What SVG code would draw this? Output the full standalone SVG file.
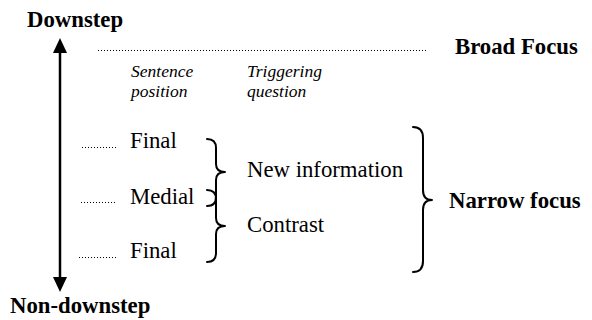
<svg xmlns="http://www.w3.org/2000/svg" width="592" height="320" viewBox="0 0 592 320">
<style>
text{font-family:'Liberation Serif','Times New Roman','DejaVu Serif',serif;fill:#000}
.b{font-weight:bold;font-size:22.75px}
.r{font-size:22.75px}
.i{font-style:italic;font-size:17.5px}
.dot{stroke:#000;stroke-width:1;stroke-dasharray:1 2;fill:none}
.brace{stroke:#000;stroke-width:2;fill:none;stroke-linecap:round;stroke-linejoin:round}
</style>
<rect width="592" height="320" fill="#fff"/>
<g id="downstep"><text class="b" x="27" y="27" font-family="Liberation Serif, serif">Downstep</text></g>
<g id="non-downstep"><text class="b" x="10" y="313" font-family="Liberation Serif, serif">Non-downstep</text></g>
<g id="broad-focus"><text class="b" x="455" y="54" font-family="Liberation Serif, serif">Broad Focus</text></g>
<g id="narrow-focus"><text class="b" x="449" y="208" font-family="Liberation Serif, serif">Narrow focus</text></g>
<g id="sentence-position"><text class="i" x="131" y="77" font-family="Liberation Serif, serif">Sentence</text><text class="i" x="131" y="97" font-family="Liberation Serif, serif">position</text></g>
<g id="triggering-question"><text class="i" x="247" y="77" font-family="Liberation Serif, serif">Triggering</text><text class="i" x="247" y="97" font-family="Liberation Serif, serif">question</text></g>
<g id="final-1"><text class="r" x="130" y="148" font-family="Liberation Serif, serif">Final</text></g>
<g id="medial"><text class="r" x="130" y="204" font-family="Liberation Serif, serif">Medial</text></g>
<g id="final-2"><text class="r" x="130" y="258" font-family="Liberation Serif, serif">Final</text></g>
<g id="new-information"><text class="r" x="247" y="177" font-family="Liberation Serif, serif">New information</text></g>
<g id="contrast"><text class="r" x="247" y="232" font-family="Liberation Serif, serif">Contrast</text></g>
<g id="connectors">
<line x1="60" y1="52" x2="60" y2="278" stroke="#000" stroke-width="2.5"/>
<polygon points="60,38 67,53 53,53" fill="#000"/>
<polygon points="60,292 67,277 53,277" fill="#000"/>
<line class="dot" x1="98" y1="50.5" x2="428" y2="50.5"/>
<line class="dot" x1="82" y1="147.5" x2="118" y2="147.5"/>
<line class="dot" x1="81" y1="202.5" x2="117" y2="202.5"/>
<line class="dot" x1="79" y1="257.5" x2="116" y2="257.5"/>
<path class="brace" d="M207,139 Q216,139 216,148 L216,164 Q216,172 225,172 Q216,172 216,180 L216,197 Q216,206 207,206"/>
<path class="brace" d="M207,190 Q216,190 216,199 L216,218 Q216,226 225,226 Q216,226 216,234 L216,253 Q216,262 207,262"/>
<path class="brace" d="M413,127 Q423,127 423,138 L423,190 Q423,200 432,200 Q423,200 423,210 L423,261 Q423,272 413,272"/>
</g>
</svg>
